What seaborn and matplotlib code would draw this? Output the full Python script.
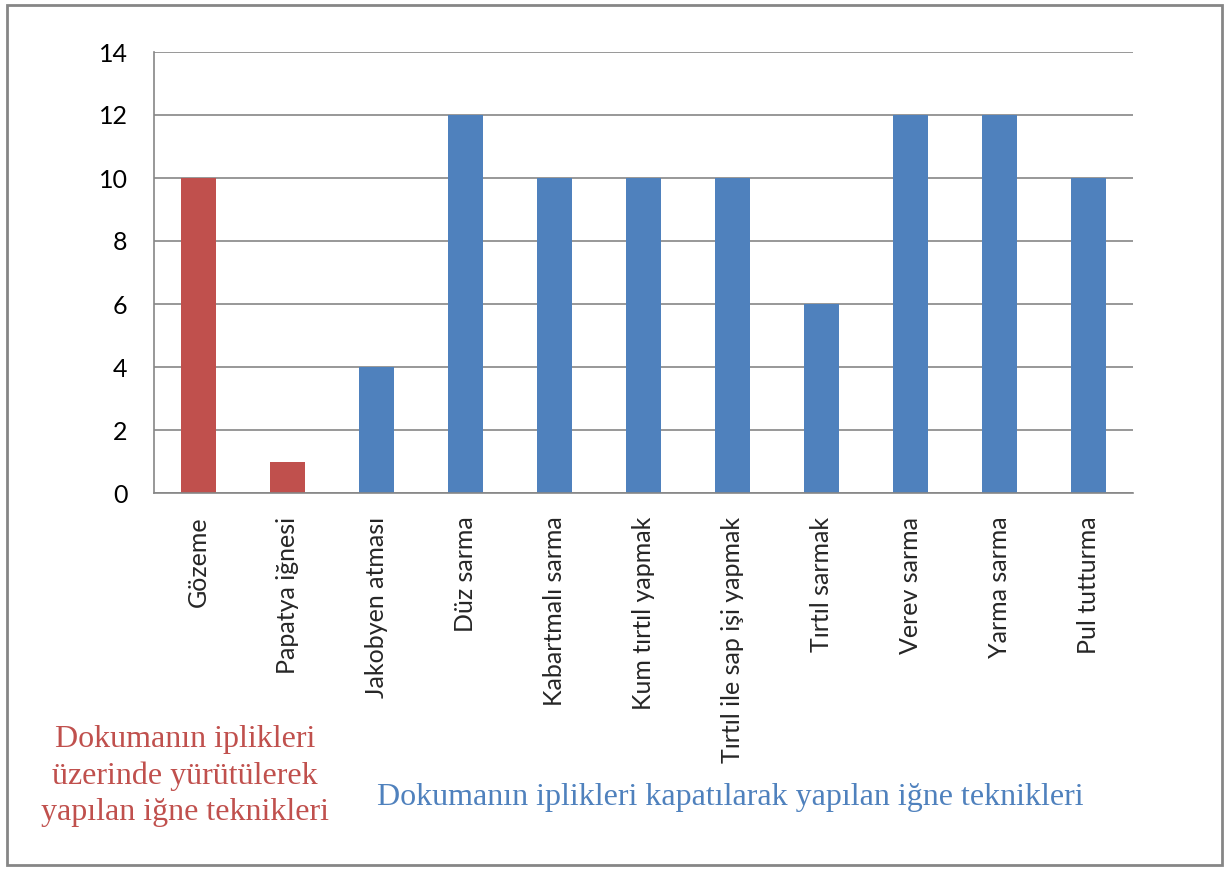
import matplotlib
matplotlib.use("Agg")
import matplotlib.pyplot as plt
import seaborn as sns
import pandas as pd

# Needle techniques and their counts
techniques = [
    "Gözeme", "Papatya iğnesi", "Jakobyen atması", "Düz sarma",
    "Kabartmalı sarma", "Kum tırtıl yapmak", "Tırtıl ile sap işi yapmak",
    "Tırtıl sarmak", "Verev sarma", "Yarma sarma", "Pul tutturma",
]
counts = [10, 1, 4, 12, 10, 10, 10, 6, 12, 12, 10]
groups = ["yurutulen", "yurutulen"] + ["kapatilan"] * 9
y_ticks = [0, 2, 4, 6, 8, 10, 12, 14]

red = "#C0504D"
blue = "#4F81BD"
grid_grey = "#868686"

df = pd.DataFrame({"teknik": techniques, "sayi": counts, "grup": groups})

sns.set_theme(style="white")
plt.rcParams["font.family"] = ["Lato", "DejaVu Sans"]

fig = plt.figure(figsize=(12.29, 8.69), dpi=100)
ax = fig.add_axes([154 / 1229, 1 - 493 / 869, (1133 - 154) / 1229, (493 - 52) / 869])

sns.barplot(data=df, x="teknik", y="sayi", hue="grup",
            palette={"yurutulen": red, "kapatilan": blue},
            dodge=False, width=0.4, saturation=1, legend=False,
            linewidth=0, edgecolor="none", ax=ax)

ax.set_ylim(0, 14)
ax.set_xlim(-0.5, len(techniques) - 0.5)
ax.set_yticks(y_ticks)
ax.set_yticklabels([str(t) for t in y_ticks], fontsize=18, color="black")
ax.yaxis.grid(True, color=grid_grey, linewidth=1.2)
ax.set_axisbelow(True)
ax.set_xlabel("")
ax.set_ylabel("")

for side in ["top", "right"]:
    ax.spines[side].set_visible(False)
for side in ["left", "bottom"]:
    ax.spines[side].set_color(grid_grey)
    ax.spines[side].set_linewidth(1.2)

# Category labels centred, ticks on the category boundaries
ax.set_xticks(range(len(techniques)))
ax.set_xticklabels(techniques, rotation=90, fontsize=18, va="top", ha="center")
ax.tick_params(axis="x", length=0, pad=17)
ax.set_xticks([i - 0.5 for i in range(len(techniques) + 1)], minor=True)
ax.tick_params(axis="x", which="minor", length=5, color=grid_grey, width=1.2, direction="out")
ax.tick_params(axis="y", length=6, color=grid_grey, width=1.2, direction="out", pad=13)

# Group captions
serif = ["Liberation Serif", "DejaVu Serif"]
fig.text(185 / 1229, 1 - 776 / 869,
         "Dokumanın iplikleri\nüzerinde yürütülerek\nyapılan iğne teknikleri",
         ha="center", va="center", color=red, fontsize=23, family=serif,
         linespacing=1.33)
fig.text(730 / 1229, 1 - 797 / 869,
         "Dokumanın iplikleri kapatılarak yapılan iğne teknikleri",
         ha="center", va="center", color=blue, fontsize=23, family=serif)

# Outer frame
fig.patches.append(plt.Rectangle((7 / 1229, 4 / 869), 1215 / 1229, 860 / 869,
                                 transform=fig.transFigure, fill=False,
                                 edgecolor=grid_grey, linewidth=2))

fig.savefig("out.png", dpi=100, facecolor="white")
